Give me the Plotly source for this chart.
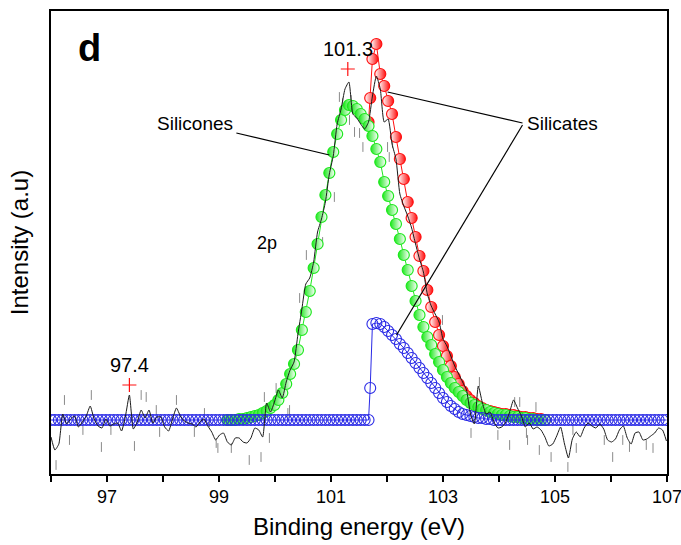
import plotly.graph_objects as go

# ---------------- data ----------------
E_START = 96.0
E_STEP = 0.07
N_POINTS = 158
energy = [round(E_START + E_STEP * k, 2) for k in range(N_POINTS)]

# smoothed measured spectrum (black line), one value per energy step
spectrum = [
    37, 24, 30, 60, 50, 55, 58, 47, 52, 58,
    68, 55, 48, 46, 55, 48, 50, 51, 43, 58,
    79, 45, 52, 64, 56, 64, 51, 57, 57, 47,
    43, 55, 66, 58, 53, 51, 50, 47, 52, 55,
    48, 42, 34, 39, 41, 32, 29, 36, 36, 32,
    31, 36, 46, 44, 37, 71, 62, 72, 84, 76,
    92, 104, 112, 140, 165, 190, 196, 212, 242, 255,
    272, 300, 318, 350, 365, 385, 392, 360, 356, 350,
    345, 352, 378, 398, 385, 352, 355, 330, 315, 280,
    268, 258, 246, 230, 215, 202, 180, 168, 160, 152,
    135, 128, 118, 108, 100, 92, 84, 60, 50, 88,
    72, 60, 62, 52, 46, 47, 52, 62, 74, 66,
    58, 47, 51, 45, 47, 44, 37, 28, 30, 38,
    47, 30, 16, 35, 42, 37, 46, 51, 48, 46,
    50, 45, 34, 32, 35, 44, 48, 36, 30, 41,
    42, 34, 35, 38, 41, 46, 44, 33,
]

# raw data points (grey dashes)
raw_energy = [96.09, 96.24, 96.33, 96.57, 96.72, 96.90, 97.07, 97.49, 97.61, 97.70,
              97.88, 97.94, 98.24, 98.56, 98.74, 98.83, 98.95, 98.98, 99.22, 99.54,
              99.75, 99.81, 99.90, 100.02, 100.23, 100.26, 100.44, 100.56, 100.85, 101.06,
              101.15, 101.21, 101.33, 101.36, 101.42, 101.51, 101.57, 102.01, 102.04, 102.10,
              102.99, 103.50, 103.65, 103.98, 104.19, 104.28, 104.37, 104.49, 104.51, 104.66,
              104.72, 104.93, 105.23, 105.32, 105.38, 105.88, 106.03, 106.21, 106.33, 106.63,
              106.75]
raw_counts = [9, 74, 34, 44, 79, 27, 44, 28, 79, 77,
              64, 42, 74, 42, 61, 52, 31, 26, 26, 14,
              17, 77, 36, 86, 61, 64, 176, 219, 232, 277,
              377, 371, 354, 374, 342, 341, 327, 327, 317, 331,
              154, 41, 92, 39, 29, 72, 72, 41, 34, 67,
              24, 17, 7, 44, 26, 34, 17, 34, 27, 29,
              26]

# Silicones component (green), energies 99.15 ... 104.82
silicones_energy = energy[45:127]
silicones = [
    54, 54, 54, 55, 55, 56, 57, 58, 59, 61,
    63, 66, 69, 74, 81, 90, 100, 110, 124, 144,
    162, 183, 206, 230, 257, 279, 301, 322, 340, 354,
    364, 369, 368, 365, 360, 355, 348, 338, 325, 312,
    292, 278, 264, 250, 235, 219, 204, 188, 173, 159,
    147, 137, 129, 120, 112, 104, 97, 91, 86, 82,
    78, 74, 71, 69, 67, 65, 64, 62, 61, 60,
    59, 59, 58, 57, 57, 56, 56, 55, 55, 54,
    54, 54,
]

# Silicates envelope (red), energies 101.67 ... 104.82 plus the edge point
silicates_energy = energy[81:127]
silicates = [
    352, 415, 430, 400, 388, 373, 360, 337, 315, 295,
    272, 256, 237, 218, 203, 184, 167, 152, 139, 128,
    118, 108, 97, 90, 83, 78, 74, 71, 68, 66,
    64, 63, 62, 61, 60, 60, 59, 59, 58, 57,
    57, 56, 56, 55, 55, 54,
]

# background / silicate step (blue), one value per energy step
background = [
    54, 54, 54, 54, 54, 54, 54, 54, 54, 54,
    54, 54, 54, 54, 54, 54, 54, 54, 54, 54,
    54, 54, 54, 54, 54, 54, 54, 54, 54, 54,
    54, 54, 54, 54, 54, 54, 54, 54, 54, 54,
    54, 54, 54, 54, 54, 54, 54, 54, 54, 54,
    54, 54, 54, 54, 54, 54, 54, 54, 54, 54,
    54, 54, 54, 54, 54, 54, 54, 54, 54, 54,
    54, 54, 54, 54, 54, 54, 54, 54, 54, 54,
    54, 54, 150, 151, 150, 147, 143, 139, 135, 130,
    126, 121, 116, 111, 106, 101, 96, 91, 86, 81,
    76, 72, 68, 65, 62, 60, 59, 58, 57, 56,
    56, 55, 55, 54, 54, 54, 54, 54, 54, 54,
    54, 54, 54, 54, 54, 54, 54, 54, 54, 54,
    54, 54, 54, 54, 54, 54, 54, 54, 54, 54,
    54, 54, 54, 54, 54, 54, 54, 54, 54, 54,
    54, 54, 54, 54, 54, 54, 54, 54,
]

# single sample on the vertical edge of the step
edge_energy = [101.70]
edge_background = [86]
edge_silicates = [376]

# labelled peak maxima (red crosses)
peak_energy = [97.4, 101.3]
peak_counts = [89, 405]
peak_labels = ["97.4", "101.3"]

# ---------------- build traces ----------------
bg_pts = sorted(list(zip(energy, background)) + list(zip(edge_energy, edge_background)))
si_pts = sorted(list(zip(silicates_energy, silicates)) + list(zip(edge_energy, edge_silicates)))

GREEN = "#1ee81e"
RED = "#ff1010"
BLUE = "#2a2ae6"
FONT = "Liberation Sans, Arial, sans-serif"

fig = go.Figure()

fig.add_trace(go.Scatter(
    x=raw_energy, y=raw_counts, mode="markers",
    marker=dict(symbol="line-ns", size=7, line=dict(color="#8a8a8a", width=1)),
    hoverinfo="skip", showlegend=False))

fig.add_trace(go.Scatter(
    x=[p[0] for p in si_pts], y=[p[1] for p in si_pts], mode="lines+markers",
    line=dict(color=RED, width=1),
    marker=dict(symbol="circle", size=11, color="white",
                gradient=dict(type="horizontal", color=RED),
                line=dict(color=RED, width=1.2)),
    hoverinfo="skip", showlegend=False))

fig.add_trace(go.Scatter(
    x=silicones_energy, y=silicones, mode="lines+markers",
    line=dict(color=GREEN, width=1),
    marker=dict(symbol="circle", size=11, color=GREEN,
                gradient=dict(type="horizontal", color="white"),
                line=dict(color=GREEN, width=1.2)),
    hoverinfo="skip", showlegend=False))

fig.add_trace(go.Scatter(
    x=[p[0] for p in bg_pts], y=[p[1] for p in bg_pts], mode="lines+markers",
    line=dict(color=BLUE, width=1),
    marker=dict(symbol="circle-open", size=11, color=BLUE, line=dict(color=BLUE, width=1.1)),
    hoverinfo="skip", showlegend=False))

fig.add_trace(go.Scatter(
    x=energy, y=spectrum, mode="lines",
    line=dict(color="#1a1a1a", width=1, shape="spline", smoothing=0.5),
    hoverinfo="skip", showlegend=False))

fig.add_trace(go.Scatter(
    x=peak_energy, y=peak_counts, mode="markers",
    marker=dict(symbol="cross-thin", size=10, line=dict(color=RED, width=1.2)),
    hoverinfo="skip", showlegend=False))

annotations = []
for e, c, t in zip(peak_energy, peak_counts, peak_labels):
    annotations.append(dict(x=e, y=c + 20, text=t, showarrow=False, xref="x", yref="y",
                            font=dict(family=FONT, size=20, color="black")))
annotations += [
    dict(x=96.69, y=426, text="<b>d</b>", showarrow=False, xref="x", yref="y",
         font=dict(family=FONT, size=38, color="black")),
    dict(x=98.58, y=351, text="Silicones", showarrow=False, xref="x", yref="y",
         font=dict(family=FONT, size=19, color="black")),
    dict(x=105.13, y=351, text="Silicates", showarrow=False, xref="x", yref="y",
         font=dict(family=FONT, size=19, color="black")),
    dict(x=99.85, y=231, text="2p", showarrow=False, xref="x", yref="y",
         font=dict(family=FONT, size=18, color="black")),
]

leader = dict(color="black", width=1.2)
shapes = [
    dict(type="line", xref="x", yref="y", x0=99.31, y0=341, x1=100.97, y1=319, line=leader),
    dict(type="line", xref="x", yref="y", x0=104.42, y0=351, x1=102.01, y1=382, line=leader),
    dict(type="line", xref="x", yref="y", x0=104.42, y0=349, x1=102.17, y1=139, line=leader),
]

fig.update_layout(
    width=681, height=545,
    margin=dict(l=51, r=14, t=11, b=71, autoexpand=False),
    paper_bgcolor="white", plot_bgcolor="white",
    font=dict(family=FONT, color="black"),
    annotations=annotations, shapes=shapes,
    xaxis=dict(
        range=[96, 107], tickvals=[97, 99, 101, 103, 105, 107],
        ticks="outside", ticklen=6, tickwidth=1.5, tickcolor="black",
        ticklabeloverflow="allow",
        minor=dict(tickvals=[96, 98, 100, 102, 104, 106], ticks="outside",
                   ticklen=6, tickwidth=1.5, tickcolor="black"),
        showline=True, mirror=True, linecolor="black", linewidth=1.5,
        showgrid=False, zeroline=False, automargin=False,
        tickfont=dict(family=FONT, size=18, color="black"),
        title=dict(text="Binding energy (eV)", font=dict(family=FONT, size=24, color="black"),
                   standoff=12),
    ),
    yaxis=dict(
        range=[0, 463], showticklabels=False, ticks="",
        showline=True, mirror=True, linecolor="black", linewidth=1.5,
        showgrid=False, zeroline=False, automargin=False,
        title=dict(text="Intensity (a.u)", font=dict(family=FONT, size=24, color="black"),
                   standoff=14),
    ),
)

fig.write_html("out.html", config={"displayModeBar": False},
               post_script="document.body.style.margin='0';document.body.style.overflow='hidden';")
